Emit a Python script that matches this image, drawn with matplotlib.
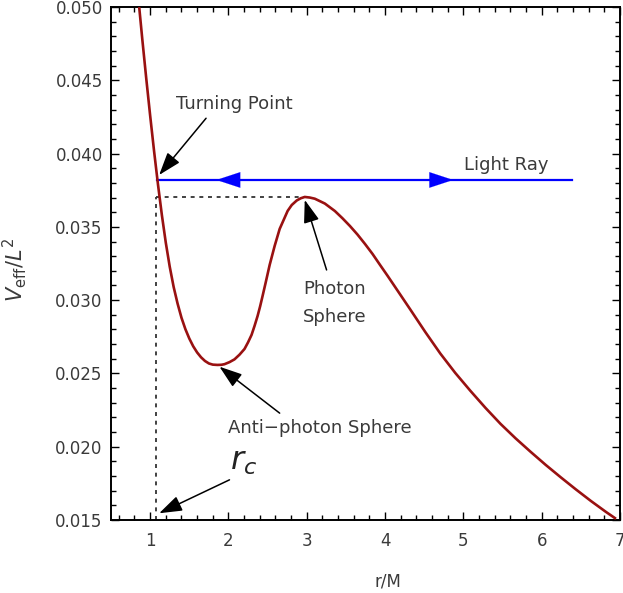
import matplotlib
matplotlib.use("Agg")
import matplotlib.pyplot as plt
from matplotlib.ticker import MultipleLocator, FormatStrFormatter

# ---- data ----
r_vals = [0.86, 0.90, 0.95, 1.00, 1.05, 1.10, 1.15, 1.20, 1.25, 1.30,
          1.35, 1.40, 1.45, 1.50, 1.55, 1.60, 1.65, 1.70, 1.75, 1.80,
          1.859, 1.910, 1.949, 2.013, 2.077, 2.141, 2.205, 2.250, 2.295, 2.333,
          2.372, 2.404, 2.436, 2.474, 2.526, 2.590, 2.654, 2.756, 2.808, 2.872,
          2.923, 2.974, 3.038, 3.103, 3.231, 3.359, 3.455, 3.551, 3.647, 3.744,
          3.840, 3.936, 4.032, 4.128, 4.321, 4.513, 4.705, 4.897, 5.090, 5.282,
          5.474, 5.667, 5.859, 6.051, 6.244, 6.436, 6.628, 6.821, 6.949]
v_vals = [0.05000, 0.04778, 0.04513, 0.04259, 0.04017, 0.03789, 0.03579, 0.03391, 0.03228, 0.03090,
          0.02977, 0.02880, 0.02802, 0.02738, 0.02685, 0.02643, 0.02610, 0.02585, 0.02568, 0.02560,
          0.02558, 0.02559, 0.02563, 0.02577, 0.02596, 0.02628, 0.02667, 0.02712, 0.02763, 0.02824,
          0.02892, 0.02957, 0.03029, 0.03117, 0.03240, 0.03370, 0.03486, 0.03609, 0.03649, 0.03680,
          0.03695, 0.03704, 0.03700, 0.03692, 0.03659, 0.03608, 0.03559, 0.03506, 0.03448, 0.03383,
          0.03315, 0.03240, 0.03166, 0.03090, 0.02937, 0.02783, 0.02636, 0.02503, 0.02381, 0.02265,
          0.02156, 0.02057, 0.01965, 0.01876, 0.01791, 0.01709, 0.01630, 0.01555, 0.01508]

ray_level = 0.0382          # light ray energy level
ray_start, ray_end = 1.09, 6.39
turning_r = 1.07            # r_c
photon_r, photon_v = 2.974, 0.03704
antiphoton_r, antiphoton_v = 1.885, 0.02546

x_ticks = [1, 2, 3, 4, 5, 6, 7]
y_ticks = [0.015, 0.020, 0.025, 0.030, 0.035, 0.040, 0.045, 0.050]

plt.rcParams['font.family'] = ['DejaVu Sans']

fig = plt.figure(figsize=(6.23, 5.93), dpi=100)
ax = fig.add_axes([111/623, 73/593, 509/623, 513/593])

curve_color = '#991111'
text_color = '#3a3a3a'

ax.plot(r_vals, v_vals, color=curve_color, lw=1.9, solid_capstyle='butt',
        solid_joinstyle='round', zorder=3)

# light ray
ax.plot([ray_start, ray_end], [ray_level, ray_level], color='#0000ff', lw=1.6, zorder=2)
for base, tip in [(2.15, 1.846), (4.58, 4.87)]:
    ax.annotate('', xy=(tip, ray_level), xytext=(base, ray_level),
                arrowprops=dict(arrowstyle='-|>,head_length=0.85,head_width=0.28',
                                color='#0000ff', lw=0.1, mutation_scale=20,
                                shrinkA=0, shrinkB=0), zorder=4)

# dashed guide lines
ax.plot([turning_r, photon_r], [photon_v, photon_v], color='#333333', lw=1.3,
        linestyle=(0, (2.2, 2.6)), zorder=1)
ax.plot([turning_r, turning_r], [0.015, photon_v], color='#333333', lw=1.3,
        linestyle=(0, (2.2, 2.6)), zorder=1)

arrow_kw = dict(arrowstyle='-|>,head_length=0.7,head_width=0.24', color='black',
                lw=1.1, mutation_scale=20, shrinkA=0, shrinkB=0)

fs = 13
ax.annotate('', xy=(1.115, 0.03854), xytext=(1.714, 0.04241), arrowprops=arrow_kw)
ax.text(2.077, 0.04338, 'Turning Point', ha='center', va='center', fontsize=fs, color=text_color)

ax.text(5.55, 0.0392, 'Light Ray', ha='center', va='center', fontsize=fs, color=text_color)

ax.annotate('', xy=(2.974, 0.03684), xytext=(3.253, 0.03206), arrowprops=arrow_kw)
ax.text(3.36, 0.02981, 'Photon\nSphere', ha='center', va='center', fontsize=fs,
        color=text_color, linespacing=1.75)

ax.annotate('', xy=(antiphoton_r, antiphoton_v), xytext=(2.654, 0.02229), arrowprops=arrow_kw)
ax.text(3.167, 0.02128, 'Anti\u2212photon Sphere', ha='center', va='center', fontsize=fs,
        color=text_color)

ax.annotate('', xy=(1.115, 0.01546), xytext=(2.013, 0.01774), arrowprops=arrow_kw)
ax.text(2.19, 0.01896, r'$r_c$', ha='center', va='center', fontsize=23, color='#222222')

# axes
ax.set_xlim(0.5, 7)
ax.set_ylim(0.015, 0.050)
ax.set_xticks(x_ticks)
ax.set_yticks(y_ticks)
ax.xaxis.set_minor_locator(MultipleLocator(0.2))
ax.yaxis.set_minor_locator(MultipleLocator(0.001))
ax.yaxis.set_major_formatter(FormatStrFormatter('%.3f'))
ax.tick_params(which='both', direction='in', top=True, right=True, colors='black',
               labelcolor=text_color, labelsize=12, width=1.0)
ax.tick_params(which='major', length=6)
ax.tick_params(which='minor', length=3.5)
ax.tick_params(axis='x', pad=9)
ax.tick_params(axis='y', pad=6)
for s in ax.spines.values():
    s.set_linewidth(1.4)

ax.set_xlabel('r/M', fontsize=12, color=text_color)
ax.set_ylabel(r'$V_{\rm eff}/L^2$', fontsize=15, color=text_color)
ax.xaxis.set_label_coords((388 - 111) / 509, -53 / 513)
ax.yaxis.set_label_coords((29 - 111) / 509, 0.487)

fig.savefig('out.png', dpi=100)
